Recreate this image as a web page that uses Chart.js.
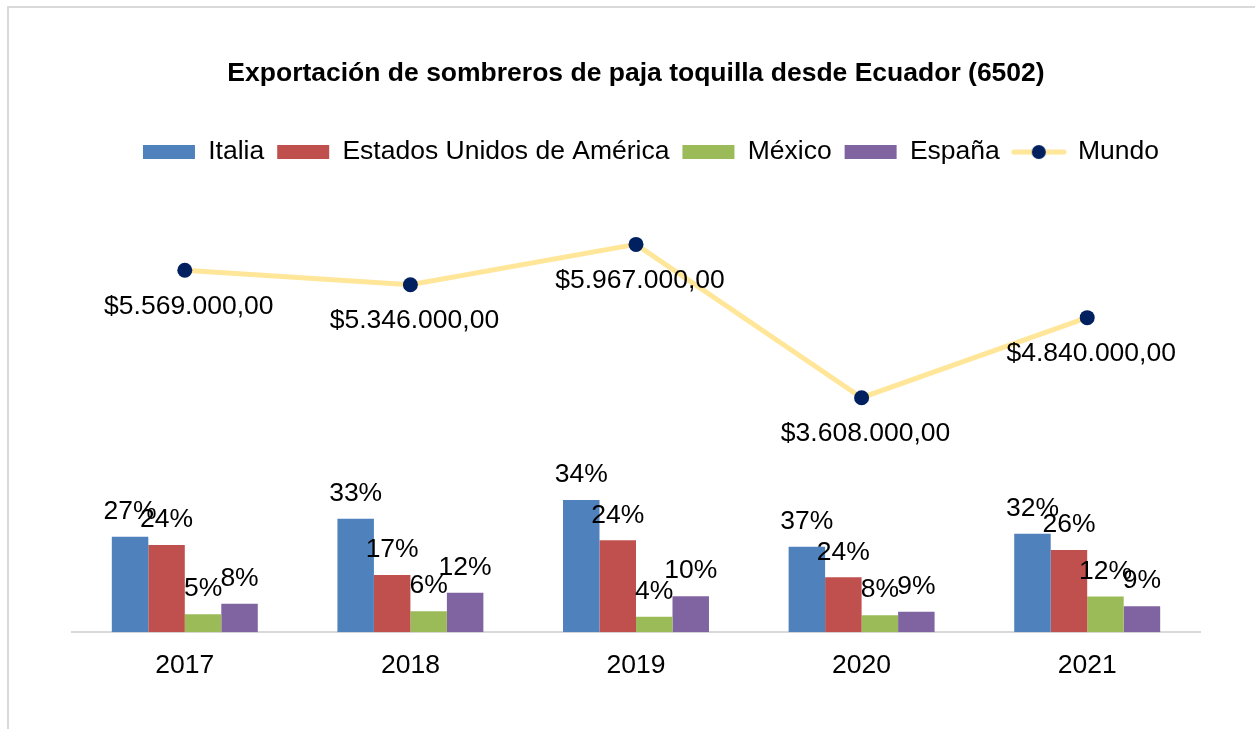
<!DOCTYPE html>
<html lang="es">
<head>
<meta charset="utf-8">
<title>Exportación de sombreros de paja toquilla</title>
<script src="https://cdn.jsdelivr.net/npm/chart.js@4.4.1/dist/chart.umd.min.js"></script>
<style>
  html, body { margin: 0; padding: 0; background: #fff; overflow: hidden; }
  #marco { position: absolute; left: 7px; top: 6px; width: 1400px; height: 900px; border: 2px solid #d9d9d9; box-sizing: border-box; }
  #wrap { position: absolute; left: 0; top: 0; width: 1255px; height: 729px; }
</style>
</head>
<body>
<div id="marco"></div>
<div id="wrap"><canvas id="grafico" width="1255" height="729"></canvas></div>
<script>
// Años
const anios = ['2017', '2018', '2019', '2020', '2021'];

// Exportaciones por destino (USD)
const italia = [1470000, 1745000, 2035000, 1315000, 1515000];
const eeuu = [1340000, 880000, 1415000, 845000, 1265000];
const mexico = [278000, 324000, 236000, 262000, 550000];
const espana = [436000, 606000, 555000, 313000, 401000];

// Participación sobre el total mundial (%)
const italiaPct = [27, 33, 34, 37, 32];
const eeuuPct = [24, 17, 24, 24, 26];
const mexicoPct = [5, 6, 4, 8, 12];
const espanaPct = [8, 12, 10, 9, 9];

// Total mundial (USD)
const mundo = [5569000, 5346000, 5967000, 3608000, 4840000];

const fuente = "'Liberation Sans', Arial, sans-serif";
Chart.defaults.font.family = fuente;
Chart.defaults.color = '#000';

function formatoDolar(v) {
  const partes = v.toFixed(2).split('.');
  const entero = partes[0].replace(/\B(?=(\d{3})+(?!\d))/g, '.');
  return '$' + entero + ',' + partes[1];
}

// Icono de leyenda para la serie Mundo (línea + punto)
const iconoMundo = document.createElement('canvas');
iconoMundo.width = 56;
iconoMundo.height = 16;
(function () {
  const c = iconoMundo.getContext('2d');
  c.strokeStyle = '#FFE699';
  c.lineWidth = 5;
  c.lineCap = 'round';
  c.beginPath();
  c.moveTo(3, 8);
  c.lineTo(53, 8);
  c.stroke();
  c.fillStyle = '#002060';
  c.beginPath();
  c.arc(28, 8, 7, 0, Math.PI * 2);
  c.fill();
})();

// Etiquetas de datos dibujadas a mano
const etiquetas = {
  id: 'etiquetas',
  afterLayout: function (chart) {
    // leyenda un poco a la derecha, como en el original
    chart.legend.left += 15;
    chart.legend.right += 15;
  },
  afterDatasetsDraw: function (chart) {
    const ctx = chart.ctx;
    ctx.save();
    ctx.font = '26.5px ' + fuente;
    ctx.fillStyle = '#000';
    ctx.textAlign = 'center';
    ctx.textBaseline = 'middle';
    chart.data.datasets.forEach(function (ds, i) {
      const meta = chart.getDatasetMeta(i);
      meta.data.forEach(function (el, j) {
        if (ds.type === 'line') {
          ctx.fillText(formatoDolar(ds.data[j]), el.x + 4, el.y + 36);
        } else {
          ctx.fillText(ds.pct[j] + '%', el.x, el.y - 25);
        }
      });
    });
    ctx.restore();
  }
};

const config = {
  data: {
    labels: anios,
    datasets: [
      { type: 'bar', label: 'Italia', data: italia, pct: italiaPct, backgroundColor: '#4F81BD', order: 2 },
      { type: 'bar', label: 'Estados Unidos de América', data: eeuu, pct: eeuuPct, backgroundColor: '#C0504D', order: 2 },
      { type: 'bar', label: 'México', data: mexico, pct: mexicoPct, backgroundColor: '#9BBB59', order: 2 },
      { type: 'bar', label: 'España', data: espana, pct: espanaPct, backgroundColor: '#8064A2', order: 2 },
      {
        type: 'line', label: 'Mundo', data: mundo, order: 1,
        borderColor: '#FFE699', borderWidth: 5, tension: 0,
        pointRadius: 7.5, pointBackgroundColor: '#002060', pointBorderWidth: 0,
        backgroundColor: '#002060'
      }
    ]
  },
  options: {
    responsive: false,
    animation: false,
    layout: { padding: { top: 0, left: 72, right: 55, bottom: 29 } },
    datasets: {
      bar: { categoryPercentage: 0.647, barPercentage: 1.0 }
    },
    scales: {
      x: {
        grid: { display: false, drawTicks: false },
        border: { display: true, color: '#d9d9d9', width: 2 },
        ticks: { padding: 18, font: { size: 26.5 }, color: '#000' }
      },
      y: { display: false, min: 0, max: 7030000 }
    },
    plugins: {
      title: {
        display: true,
        text: 'Exportación de sombreros de paja toquilla desde Ecuador (6502)',
        font: { size: 26.5, weight: 'bold' },
        color: '#000',
        padding: { top: 58, bottom: 36 }
      },
      legend: {
        display: true,
        position: 'top',
        labels: {
          usePointStyle: true,
          pointStyleWidth: 52,
          boxHeight: 14,
          padding: 13,
          font: { size: 26.5 },
          color: '#000',
          generateLabels: function (chart) {
            return chart.data.datasets.map(function (ds, i) {
              return {
                text: ds.label,
                fillStyle: ds.type === 'line' ? '#002060' : ds.backgroundColor,
                strokeStyle: ds.type === 'line' ? '#002060' : ds.backgroundColor,
                lineWidth: 0,
                pointStyle: ds.type === 'line' ? iconoMundo : 'rect',
                hidden: false,
                datasetIndex: i
              };
            });
          }
        }
      },
      tooltip: { enabled: false }
    }
  },
  plugins: [etiquetas]
};

const ctx = document.getElementById('grafico').getContext('2d');
const grafico = new Chart(ctx, config);
</script>
</body>
</html>
